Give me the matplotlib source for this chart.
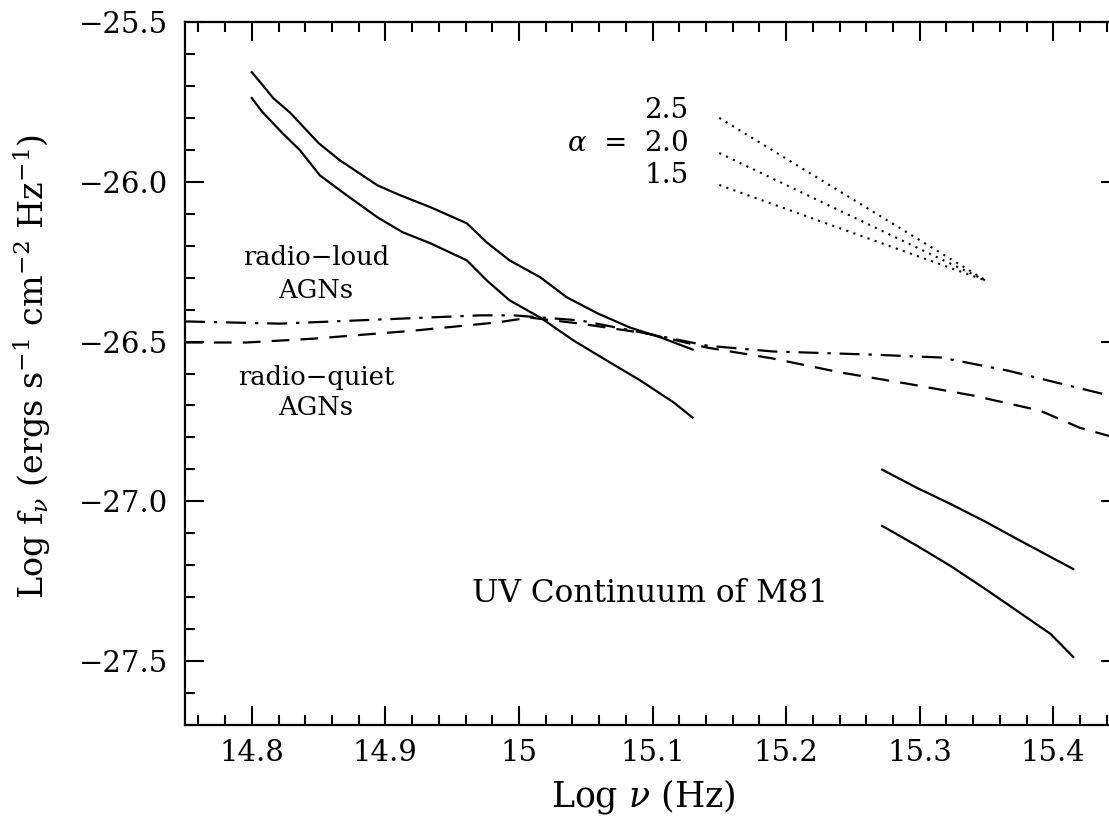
import matplotlib
matplotlib.use("Agg")
import matplotlib.pyplot as plt
from matplotlib.ticker import MultipleLocator, FixedFormatter, FixedLocator

plt.rcParams['font.family'] = ['DejaVu Serif']
plt.rcParams['mathtext.fontset'] = 'dejavuserif'

# M81 UV continuum, upper / lower bounds (optical part)
m81_opt_x = [14.80, 14.808, 14.816, 14.829, 14.850, 14.866, 14.894, 14.911, 14.934,
             14.961, 14.976, 14.993, 15.016, 15.036, 15.059, 15.083, 15.106, 15.130]
m81_opt_hi = [-25.657, -25.697, -25.738, -25.785, -25.879, -25.933, -26.011, -26.042, -26.080,
              -26.130, -26.190, -26.246, -26.299, -26.362, -26.412, -26.456, -26.487, -26.525]
m81_opt_lo_x = [14.80, 14.808, 14.823, 14.836, 14.851, 14.871, 14.894, 14.913, 14.934,
                14.961, 14.976, 14.993, 15.016, 15.041, 15.066, 15.091, 15.116, 15.130]
m81_opt_lo = [-25.738, -25.782, -25.848, -25.901, -25.980, -26.042, -26.111, -26.158, -26.193,
              -26.246, -26.309, -26.371, -26.425, -26.497, -26.560, -26.622, -26.691, -26.738]

# M81 far-UV part
m81_uv_x = [15.272, 15.298, 15.323, 15.348, 15.373, 15.398, 15.415]
m81_uv_hi = [-26.901, -26.958, -27.008, -27.061, -27.118, -27.174, -27.212]
m81_uv_lo = [-27.077, -27.139, -27.202, -27.271, -27.343, -27.415, -27.487]

# radio-loud AGN template (dash-dot)
rl_x = [14.75, 14.821, 14.896, 14.971, 14.996, 15.046, 15.096, 15.141, 15.190,
        15.265, 15.316, 15.366, 15.403, 15.45]
rl_y = [-26.437, -26.444, -26.431, -26.418, -26.418, -26.434, -26.475, -26.513, -26.531,
        -26.541, -26.550, -26.591, -26.629, -26.677]

# radio-quiet AGN template (dashed)
rq_x = [14.75, 14.796, 14.846, 14.921, 14.984, 15.008, 15.046, 15.096, 15.141, 15.190,
        15.241, 15.291, 15.340, 15.390, 15.420, 15.45]
rq_y = [-26.503, -26.503, -26.491, -26.466, -26.440, -26.425, -26.444, -26.475, -26.519, -26.553,
        -26.597, -26.632, -26.669, -26.716, -26.770, -26.805]

# power-law guides
alpha_labels = ['2.5', '2.0', '1.5']
pl_x = [15.15, 15.35]
pl_y = [[-25.80, -26.31], [-25.91, -26.31], [-26.01, -26.31]]

fig = plt.figure(figsize=(11.09, 8.21), dpi=100)
ax = fig.add_axes([185 / 1109, 1 - 725 / 821, 935 / 1109, 703 / 821])

lw = 1.6
ax.plot(m81_opt_x, m81_opt_hi, color='black', lw=lw)
ax.plot(m81_opt_lo_x, m81_opt_lo, color='black', lw=lw)
ax.plot(m81_uv_x, m81_uv_hi, color='black', lw=lw)
ax.plot(m81_uv_x, m81_uv_lo, color='black', lw=lw)
ax.plot(rl_x, rl_y, color='black', lw=lw, dashes=[9, 4, 1.5, 4])
ax.plot(rq_x, rq_y, color='black', lw=lw, dashes=[8, 5])
for ys in pl_y:
    ax.plot(pl_x, ys, color='black', lw=1.5, dashes=[1, 2.6])

ax.set_xlim(14.75, 15.45)
ax.set_ylim(-27.7, -25.5)

xt = [14.8, 14.9, 15.0, 15.1, 15.2, 15.3, 15.4]
ax.xaxis.set_major_locator(FixedLocator(xt))
ax.xaxis.set_major_formatter(FixedFormatter(['14.8', '14.9', '15', '15.1', '15.2', '15.3', '15.4']))
ax.xaxis.set_minor_locator(MultipleLocator(0.02))
ax.yaxis.set_major_locator(MultipleLocator(0.5))
ax.yaxis.set_minor_locator(MultipleLocator(0.1))
ax.yaxis.set_major_formatter(plt.FuncFormatter(lambda v, p: '\u2212%.1f' % abs(v)))

ax.tick_params(which='both', direction='in', top=True, right=True, width=1.5, labelsize=21)
ax.tick_params(which='major', length=14)
ax.tick_params(which='minor', length=7)
ax.tick_params(axis='x', pad=10)
ax.tick_params(axis='y', pad=12)
for s in ax.spines.values():
    s.set_linewidth(1.6)

ax.set_xlabel(r'Log $\nu$ (Hz)', fontsize=25, va='center')
ax.xaxis.set_label_coords(0.49, -0.102)
ax.set_ylabel(r'Log f$_\nu$ (ergs s$^{-1}$ cm$^{-2}$ Hz$^{-1}$)', fontsize=24, va='center')
ax.yaxis.set_label_coords(-0.163, 0.51)

ax.text(14.848, -26.237, 'radio\u2212loud', fontsize=18.5, ha='center', va='center')
ax.text(14.848, -26.340, 'AGNs', fontsize=18.5, ha='center', va='center')
ax.text(14.848, -26.613, 'radio\u2212quiet', fontsize=18.5, ha='center', va='center')
ax.text(14.848, -26.707, 'AGNs', fontsize=18.5, ha='center', va='center')
ax.text(15.098, -27.287, 'UV Continuum of M81', fontsize=22.5, ha='center', va='center')

ax.text(15.127, -25.776, alpha_labels[0], fontsize=20, ha='right', va='center')
ax.text(15.127, -25.879, r'$\alpha$  =  ' + alpha_labels[1], fontsize=20, ha='right', va='center')
ax.text(15.127, -25.980, alpha_labels[2], fontsize=20, ha='right', va='center')

fig.savefig('out.png', dpi=100)
